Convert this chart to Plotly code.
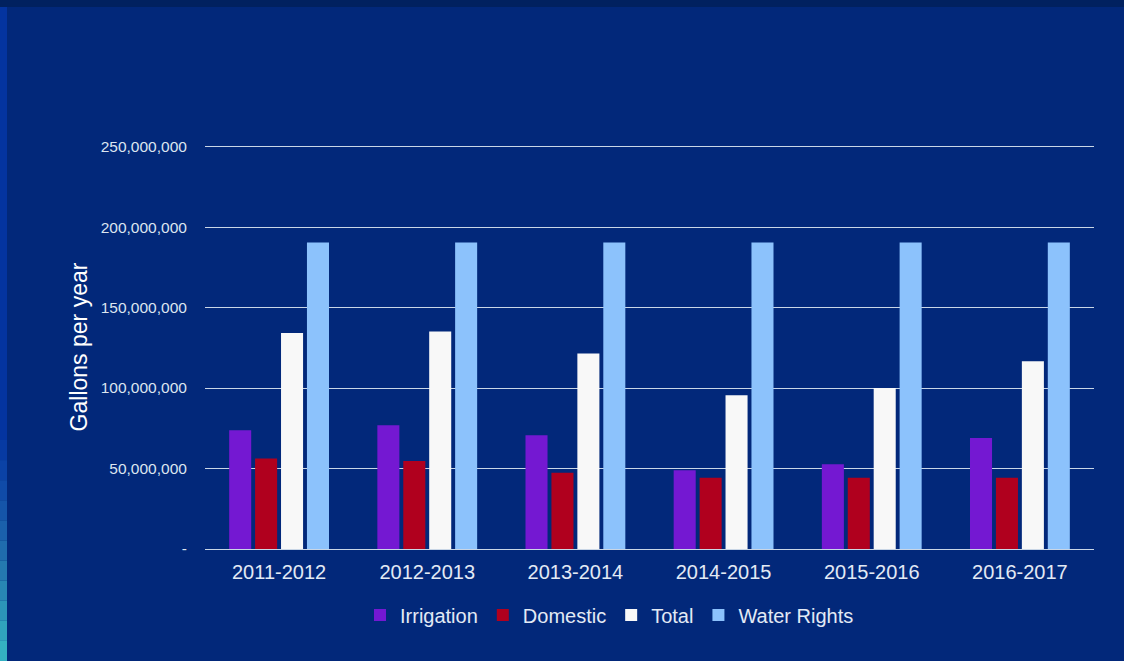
import plotly.graph_objects as go

years = ["2011-2012", "2012-2013", "2013-2014", "2014-2015", "2015-2016", "2016-2017"]
irrigation = [73.8e6, 76.9e6, 70.7e6, 49.0e6, 52.7e6, 69.0e6]
domestic = [56.3e6, 54.6e6, 47.3e6, 44.2e6, 44.2e6, 44.2e6]
total = [134.2e6, 135.2e6, 121.4e6, 95.5e6, 100.1e6, 116.6e6]
water_rights = [190.4e6, 190.4e6, 190.4e6, 190.4e6, 190.4e6, 190.4e6]

tick_vals = [0, 50e6, 100e6, 150e6, 200e6, 250e6]
tick_text = ["-", "50,000,000", "100,000,000", "150,000,000", "200,000,000", "250,000,000"]

series = [
    ("Irrigation", irrigation, "#7418d2"),
    ("Domestic", domestic, "#b0001e"),
    ("Total", total, "#f8f8f8"),
    ("Water Rights", water_rights, "#8cc2fc"),
]

fig = go.Figure()
for name, vals, color in series:
    fig.add_trace(go.Bar(x=years, y=vals, name=name, marker=dict(color=color, line=dict(width=0))))

W, H = 1124, 661
ML, MR, MT, MB = 205, 30, 145, 112
PW, PH = W - ML - MR, H - MT - MB


def px_x(p):
    return (p - ML) / PW


def px_y(p):
    return (H - MB - p) / PH


bg = "#02287a"
txt = "#e2eaf5"
fig.update_layout(
    width=W, height=H,
    paper_bgcolor=bg, plot_bgcolor=bg,
    margin=dict(l=ML, r=MR, t=MT, b=MB),
    barmode="group", bargap=0.30, bargroupgap=0.15,
    font=dict(family="Liberation Sans, Arial, sans-serif", color=txt),
    legend=dict(orientation="h", x=px_x(360), xanchor="left", y=px_y(615), yanchor="middle",
                font=dict(size=20, color=txt), itemwidth=30, traceorder="normal",
                bgcolor="rgba(0,0,0,0)"),
    xaxis=dict(showgrid=False, showline=False, tickfont=dict(size=20, color=txt),
               ticks="outside", ticklen=5, tickcolor="rgba(0,0,0,0)"),
    yaxis=dict(range=[0, 251e6], tickvals=tick_vals, ticktext=tick_text,
               showgrid=True, gridcolor="#c9d6e6", gridwidth=1.3,
               zeroline=True, zerolinecolor="#c9d6e6", zerolinewidth=1.3,
               tickfont=dict(size=15.5, color="#dce5f0"),
               ticks="outside", ticklen=14, tickcolor="rgba(0,0,0,0)",
               title=dict(text="Gallons per year", font=dict(size=23, color="#ffffff"), standoff=6)),
)

# decorative frame: darker top band and left edge gradient strip
fig.add_shape(type="rect", xref="paper", yref="paper",
              x0=px_x(0), x1=px_x(W), y0=px_y(7), y1=px_y(0),
              fillcolor="#01215f", line=dict(width=0), layer="below")
fig.add_shape(type="rect", xref="paper", yref="paper",
              x0=px_x(0), x1=px_x(7), y0=px_y(440), y1=px_y(7),
              fillcolor="#0434a0", line=dict(width=0), layer="below")
strip_colors = ["#073aa2", "#0b42a6", "#104ba8", "#1555a9", "#1a60ab", "#1f6cad",
                "#2479b0", "#2887b4", "#2c95b8", "#30a3bd", "#34b1c2"]
n = len(strip_colors)
step = (661 - 440) / n
for i, c in enumerate(strip_colors):
    fig.add_shape(type="rect", xref="paper", yref="paper",
                  x0=px_x(0), x1=px_x(7), y0=px_y(440 + (i + 1) * step), y1=px_y(440 + i * step),
                  fillcolor=c, line=dict(width=0), layer="below")

fig.write_html("out.html", config={"displayModeBar": False},
               post_script="document.body.style.margin='0';document.body.style.background='%s';" % bg)
